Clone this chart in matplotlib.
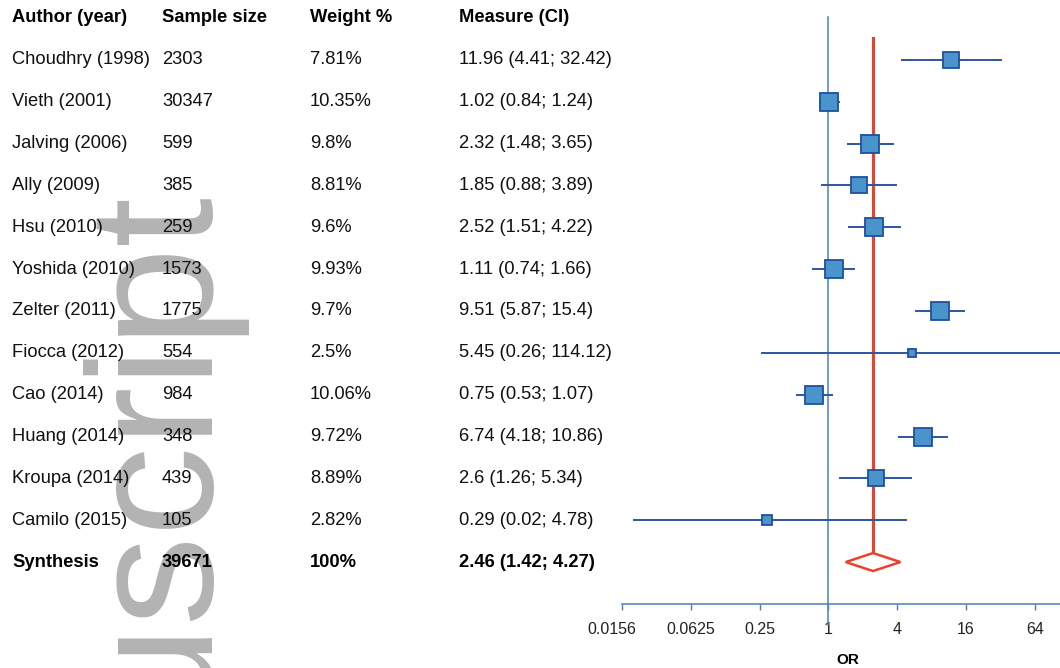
import numpy as np
import matplotlib.pyplot as plt
from matplotlib.transforms import blended_transform_factory, ScaledTranslation

plt.rcParams['font.family'] = ['Liberation Sans', 'DejaVu Sans']

authors = ['Choudhry (1998)', 'Vieth (2001)', 'Jalving (2006)', 'Ally (2009)',
           'Hsu (2010)', 'Yoshida (2010)', 'Zelter (2011)', 'Fiocca (2012)',
           'Cao (2014)', 'Huang (2014)', 'Kroupa (2014)', 'Camilo (2015)']
sample_size = [2303, 30347, 599, 385, 259, 1573, 1775, 554, 984, 348, 439, 105]
weight = [7.81, 10.35, 9.8, 8.81, 9.6, 9.93, 9.7, 2.5, 10.06, 9.72, 8.89, 2.82]
odds = [11.96, 1.02, 2.32, 1.85, 2.52, 1.11, 9.51, 5.45, 0.75, 6.74, 2.6, 0.29]
ci_low = [4.41, 0.84, 1.48, 0.88, 1.51, 0.74, 5.87, 0.26, 0.53, 4.18, 1.26, 0.02]
ci_high = [32.42, 1.24, 3.65, 3.89, 4.22, 1.66, 15.4, 114.12, 1.07, 10.86, 5.34, 4.78]

total_n = 39671
pooled = 2.46
pooled_low = 1.42
pooled_high = 4.27

tick_vals = [0.015625, 0.0625, 0.25, 1, 4, 16, 64]
tick_labels = ['0.0156', '0.0625', '0.25', '1', '4', '16', '64']

W, H = 1060, 668
fig = plt.figure(figsize=(W / 100, H / 100), dpi=100)

# forest panel: rows are 41.85 px apart, header row at 18 px from the top
row_px = 41.85
ax = fig.add_axes([622 / W, (H - 604) / H, 1 - 622 / W, 604 / H])
ax.set_facecolor('none')
ax.set_xscale('log', base=2)
ax.set_xlim(2 ** -6, 2 ** 6.735)
ax.set_ylim((604 - 18) / row_px, -18 / row_px)

for s in ['top', 'right', 'left']:
    ax.spines[s].set_visible(False)
ax.spines['bottom'].set_color('#4a7ebb')
ax.spines['bottom'].set_linewidth(1.1)
ax.set_yticks([])
ax.set_xticks(tick_vals)
ax.set_xticklabels(tick_labels)
ax.minorticks_off()
ax.tick_params(axis='x', direction='out', length=4, width=1, color='#4a7ebb',
               labelsize=11.5, pad=9, labelcolor='#222222')
# first label sits a little left of its tick
first = ax.get_xticklabels()[0]
first.set_transform(first.get_transform() +
                    ScaledTranslation(-10 / 100, 0, fig.dpi_scale_trans))
ax.set_xlabel('OR', fontsize=11, fontweight='bold')
ax.xaxis.set_label_coords((848 - 622) / (W - 622), -(653 - 604) / 604)

# reference line at OR = 1 and pooled estimate line
ax.plot([1, 1], [-0.03, 14.5], color='#4a7fd0', lw=1.1, clip_on=False, zorder=2)
dh = 0.215
ax.plot([pooled, pooled], [0.48, 13 - dh], color='#e8432a', lw=2.2, zorder=2)

rows = np.arange(1, len(authors) + 1)
for r, o, lo, hi, w in zip(rows, odds, ci_low, ci_high, weight):
    ax.plot([lo, hi], [r, r], color='#2d55a0', lw=1.4, zorder=3)
    side = 5.6 * np.sqrt(w) * 0.72
    ax.plot(o, r, marker='s', ms=side, mfc='#4a94cc', mec='#1f4f9e', mew=1.3,
            zorder=4)

ax.fill([pooled_low, pooled, pooled_high, pooled, pooled_low],
        [13, 13 - dh, 13, 13 + dh, 13], facecolor='white',
        edgecolor='#e8432a', lw=1.8, zorder=4)

# table columns
tr = blended_transform_factory(fig.transFigure, ax.transData)
cols = [12, 162, 310, 459]
headers = ['Author (year)', 'Sample size', 'Weight %', 'Measure (CI)']
for c, h in zip(cols, headers):
    fig.text(c / W, 0, h, transform=tr, fontsize=13.2, fontweight='bold',
             va='center', ha='left', zorder=3)

for i, r in enumerate(rows):
    cells = [authors[i], str(sample_size[i]), f'{weight[i]:g}%',
             f'{odds[i]:g} ({ci_low[i]:g}; {ci_high[i]:g})']
    for c, t in zip(cols, cells):
        fig.text(c / W, r, t, transform=tr, fontsize=13.2, va='center',
                 ha='left', color='#111111', zorder=3)

synth = ['Synthesis', str(total_n), '100%',
         f'{pooled:g} ({pooled_low:g}; {pooled_high:g})']
for c, t in zip(cols, synth):
    fig.text(c / W, 13, t, transform=tr, fontsize=13.2, fontweight='bold',
             va='center', ha='left', zorder=3)

# vertical watermark
fig.text(213 / W, 1 - 197 / H, 'Author Manuscript', rotation=90,
         rotation_mode='anchor', ha='right', va='baseline', fontsize=129,
         color='#b3b3b3', zorder=1)

fig.savefig('out.png', dpi=100)
